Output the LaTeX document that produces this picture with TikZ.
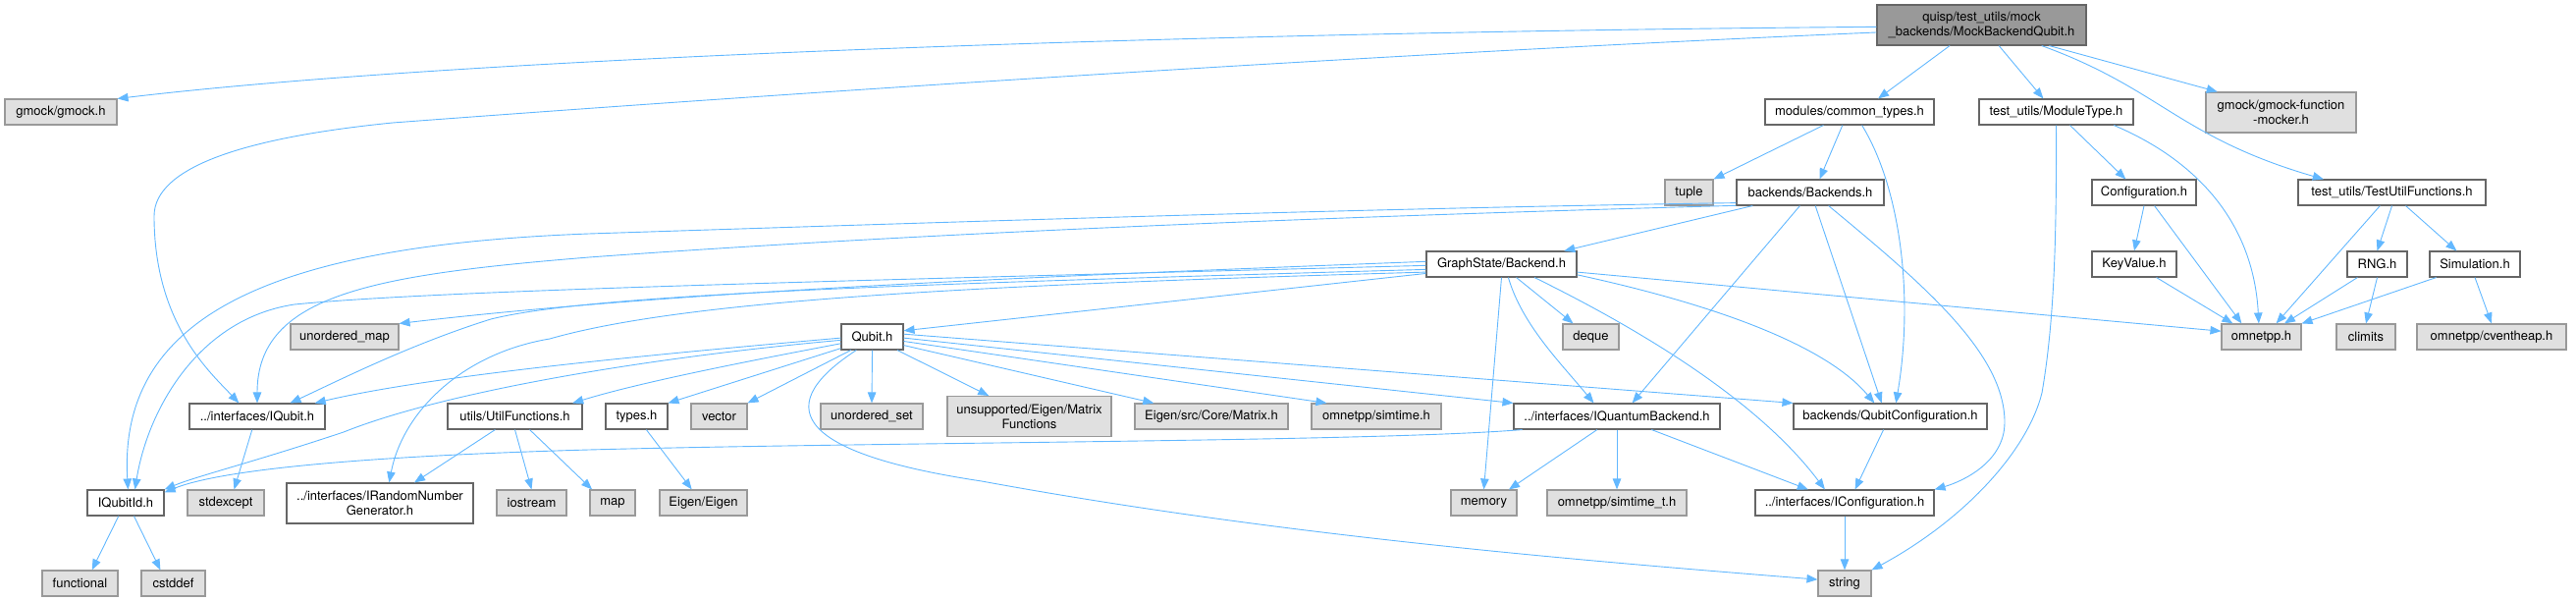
\documentclass[tikz,border=0pt]{standalone}
\usepackage{fontspec}
\setsansfont{TeX Gyre Heros}
\usetikzlibrary{arrows.meta}

\definecolor{edgeblue}{HTML}{63B8FF}

\begin{document}
\begin{tikzpicture}[
    x=1pt, y=-1pt,
    font=\sffamily\fontsize{13}{15}\selectfont,
    file/.style={draw=black!60, fill=white, line width=1.1pt, inner sep=0pt, minimum height=26pt, align=center},
    sysfile/.style={file, draw=black!40, fill=black!12},
    rootfile/.style={file, fill=black!40},
    dep/.style={edgeblue, line width=0.9pt, -{Triangle[length=11pt, width=8.5pt]}}
]
\useasboundingbox (0,0) rectangle (2624,612);

\node[rootfile, minimum width=213pt, minimum height=41pt] (root) at (2018.5,25.5) {quisp/test\_utils/mock\\\_backends/MockBackendQubit.h};

\node[sysfile, minimum width=114pt] (gmock) at (62,114) {gmock/gmock.h};
\node[file, minimum width=172pt] (commontypes) at (1884,114) {modules/common\_types.h};
\node[file, minimum width=157pt] (moduletype) at (2094.5,114) {test\_utils/ModuleType.h};
\node[sysfile, minimum width=153pt, minimum height=41pt] (gmockfm) at (2323.5,114.5) {gmock/gmock-function\\-mocker.h};

\node[sysfile, minimum width=49pt] (tuple) at (1720.5,196) {tuple};
\node[file, minimum width=150pt] (backends) at (1844,196) {backends/Backends.h};
\node[file, minimum width=106pt] (configuration) at (2184,196) {Configuration.h};
\node[file, minimum width=191pt] (testutil) at (2436.5,196) {test\_utils/TestUtilFunctions.h};

\node[file, minimum width=153pt] (graphstate) at (1529.5,269) {GraphState/Backend.h};
\node[file, minimum width=86pt] (keyvalue) at (2174,269) {KeyValue.h};
\node[file, minimum width=61pt] (rng) at (2421.5,269) {RNG.h};
\node[file, minimum width=92pt] (simulation) at (2521,269) {Simulation.h};

\node[sysfile, minimum width=110pt] (unorderedmap) at (351,343) {unordered\_map};
\node[file, minimum width=63pt] (qubit) at (888.5,343) {Qubit.h};
\node[sysfile, minimum width=57pt] (deque) at (1620.5,343) {deque};
\node[sysfile, minimum width=81pt] (omnetpp) at (2303.5,343) {omnetpp.h};
\node[sysfile, minimum width=60pt] (climits) at (2410,343) {climits};
\node[sysfile, minimum width=152pt] (cventheap) at (2538,343) {omnetpp/cventheap.h};

\node[file, minimum width=138pt] (iqubit) at (262,424) {../interfaces/IQubit.h};
\node[file, minimum width=137pt] (utilfunctions) at (524.5,424) {utils/UtilFunctions.h};
\node[file, minimum width=63pt] (types) at (648.5,424) {types.h};
\node[sysfile, minimum width=57pt] (vector) at (732.5,424) {vector};
\node[sysfile, minimum width=104pt] (unorderedset) at (888,424) {unordered\_set};
\node[sysfile, minimum width=167pt, minimum height=41pt] (matrixfunctions) at (1048.5,424) {unsupported/Eigen/Matrix\\Functions};
\node[sysfile, minimum width=156pt] (coreMatrix) at (1234,424) {Eigen/src/Core/Matrix.h};
\node[sysfile, minimum width=132pt] (simtime) at (1402,424) {omnetpp/simtime.h};
\node[file, minimum width=210pt] (iquantumbackend) at (1647,424) {../interfaces/IQuantumBackend.h};
\node[file, minimum width=197pt] (qubitconfiguration) at (1925.5,424) {backends/QubitConfiguration.h};

\node[file, minimum width=78pt] (iqubitid) at (128,512) {IQubitId.h};
\node[sysfile, minimum width=78pt] (stdexcept) at (230,512) {stdexcept};
\node[file, minimum width=190pt, minimum height=41pt] (irandom) at (387,512.5) {../interfaces/IRandomNumber\\Generator.h};
\node[sysfile, minimum width=71pt] (iostream) at (541.5,512) {iostream};
\node[sysfile, minimum width=46pt] (map) at (624,512) {map};
\node[sysfile, minimum width=89pt] (eigen) at (716.5,512) {Eigen/Eigen};
\node[sysfile, minimum width=67pt] (memory) at (1511.5,512) {memory};
\node[sysfile, minimum width=142pt] (simtimet) at (1647,512) {omnetpp/simtime\_t.h};
\node[file, minimum width=182pt] (iconfiguration) at (1879,512) {../interfaces/IConfiguration.h};

\node[sysfile, minimum width=77pt] (functional) at (81.5,594) {functional};
\node[sysfile, minimum width=65pt] (cstddef) at (176.5,594) {cstddef};
\node[sysfile, minimum width=54pt] (string) at (1879,594) {string};

\draw[dep] (root.181) .. controls (1300,32) and (500,55) .. (gmock.north east);
\draw[dep] (root.184) .. controls (1400,55) and (800,95) .. (400,125) .. controls (250,140) and (157,170) .. (157,220) .. controls (157,330) and (215,380) .. (iqubit.144);
\draw[dep] (root.213) -- (commontypes.25);
\draw[dep] (root.310) -- (moduletype.134);
\draw[dep] (root.343) -- (gmockfm.162);
\draw[dep] (root.341) .. controls (2200,90) and (2220,140) .. (testutil.169);

\draw[dep] (commontypes.207) -- (tuple.north east);
\draw[dep] (commontypes.242) -- (backends.55);
\draw[dep] (commontypes.313) .. controls (1935,190) and (1950,300) .. (qubitconfiguration.67);

\draw[dep] (backends.193) -- (graphstate.12);
\draw[dep] (backends.188) .. controls (1400,212) and (1000,225) .. (600,238) .. controls (280,250) and (120,320) .. (iqubitid.80);
\draw[dep] (backends.190) .. controls (1300,222) and (900,240) .. (600,262) .. controls (380,280) and (262,300) .. (iqubit.north);
\draw[dep] (backends.232) -- (iquantumbackend.41);
\draw[dep] (backends.291) -- (qubitconfiguration.123);
\draw[dep] (backends.324) .. controls (1960,290) and (2042,360) .. (2042,430) .. controls (2042,470) and (2000,490) .. (iconfiguration.north east);

\draw[dep] (graphstate.187) -- (qubit.11);
\draw[dep] (graphstate.178) .. controls (1100,280) and (700,295) .. (unorderedmap.north east);
\draw[dep] (graphstate.184) .. controls (900,290) and (600,300) .. (500,325) .. controls (420,350) and (350,385) .. (iqubit.22);
\draw[dep] (graphstate.181) .. controls (900,285) and (450,295) .. (300,310) .. controls (200,325) and (150,420) .. (iqubitid.55);
\draw[dep] (graphstate.186) .. controls (1000,290) and (700,305) .. (560,345) .. controls (470,360) and (410,420) .. (irandom.66);
\draw[dep] (graphstate.south) -- (memory.north);
\draw[dep] (graphstate.297) .. controls (1550,330) and (1590,370) .. (iquantumbackend.150);
\draw[dep] (graphstate.318) -- (deque.143);
\draw[dep] (graphstate.338) .. controls (1700,350) and (1800,420) .. (iconfiguration.146);
\draw[dep] (graphstate.352) .. controls (1700,300) and (1850,340) .. (qubitconfiguration.140);
\draw[dep] (graphstate.354) -- (omnetpp.172);

\draw[dep] (qubit.182) .. controls (700,358) and (450,380) .. (iqubit.13);
\draw[dep] (qubit.186) .. controls (650,365) and (450,400) .. (350,440) .. controls (260,470) and (200,485) .. (iqubitid.north east);
\draw[dep] (qubit.192) .. controls (750,370) and (650,390) .. (utilfunctions.13);
\draw[dep] (qubit.200) -- (types.north east);
\draw[dep] (qubit.212) -- (vector.north east);
\draw[dep] (qubit.south) -- (unorderedset.north);
\draw[dep] (qubit.332) -- (matrixfunctions.153);
\draw[dep] (qubit.345) -- (coreMatrix.167);
\draw[dep] (qubit.352) -- (simtime.165);
\draw[dep] (qubit.358) -- (iquantumbackend.north west);
\draw[dep] (qubit.5) -- (qubitconfiguration.north west);
\draw[dep] (qubit.220) .. controls (790,410) and (800,460) .. (1000,490) .. controls (1300,545) and (1600,570) .. (string.172);

\draw[dep] (utilfunctions.214) -- (irandom.31);
\draw[dep] (utilfunctions.south) -- (iostream.north);
\draw[dep] (utilfunctions.318) -- (map.147);
\draw[dep] (iqubit.249) -- (stdexcept.58);
\draw[dep] (iqubitid.242) -- (functional.48);
\draw[dep] (iqubitid.302) -- (cstddef.134);
\draw[dep] (types.306) -- (eigen.131);

\draw[dep] (iquantumbackend.214) -- (memory.28);
\draw[dep] (iquantumbackend.south) -- (simtimet.north);
\draw[dep] (iquantumbackend.339) -- (iconfiguration.160);
\draw[dep] (iquantumbackend.188) .. controls (1400,450) and (900,450) .. (600,458) .. controls (350,465) and (220,480) .. (iqubitid.15);
\draw[dep] (qubitconfiguration.243) -- (iconfiguration.52);
\draw[dep] (iconfiguration.south) -- (string.north);

\draw[dep] (moduletype.south) .. controls (2095,250) and (2092,330) .. (2080,400) .. controls (2065,460) and (2000,530) .. (string.north east);
\draw[dep] (moduletype.316) -- (configuration.144);
\draw[dep] (moduletype.347) .. controls (2230,160) and (2295,220) .. (omnetpp.101);
\draw[dep] (configuration.south) -- (keyvalue.north);
\draw[dep] (configuration.308) -- (omnetpp.146);
\draw[dep] (keyvalue.329) -- (omnetpp.155);
\draw[dep] (testutil.228) -- (omnetpp.42);
\draw[dep] (testutil.south) -- (rng.north);
\draw[dep] (testutil.316) -- (simulation.144);
\draw[dep] (rng.214) -- (omnetpp.30);
\draw[dep] (rng.south) -- (climits.north);
\draw[dep] (simulation.199) -- (omnetpp.north east);
\draw[dep] (simulation.south) -- (cventheap.north);

\end{tikzpicture}
\end{document}
